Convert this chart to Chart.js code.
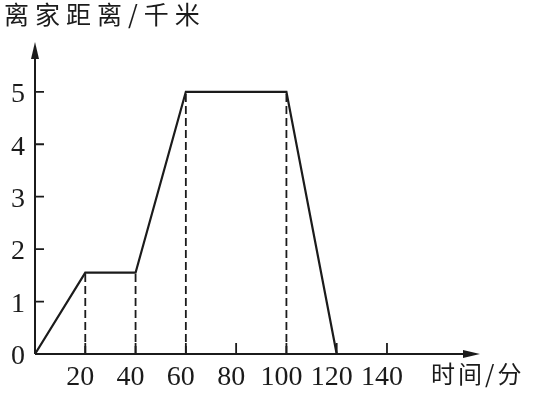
<!DOCTYPE html>
<html>
<head>
<meta charset="utf-8">
<script src="https://cdn.jsdelivr.net/npm/chart.js@4"></script>
<style>
  html, body { margin: 0; padding: 0; background: #fff; }
  #wrap { width: 539px; height: 393px; position: relative; }
</style>
</head>
<body>
<div id="wrap"><canvas id="chart"></canvas></div>
<script>
// data
const timeMin = [0, 20, 40, 60, 100, 120];
const distKm = [0, 1.55, 1.55, 5, 5, 0];
const dashedAt = [20, 40, 60, 100];
const xTicks = [20, 40, 60, 80, 100, 120, 140];
const yTicks = [0, 1, 2, 3, 4, 5];
const yTitle = "离家距离/千米";
const xTitle = "时间/分";

const ink = "#1b1b1b";
const cjkFont = '"Noto Sans CJK SC", sans-serif';
const numFont = '"Liberation Serif", "DejaVu Serif", serif';

const mainLine = timeMin.map((t, i) => ({ x: t, y: distKm[i] }));

// dashed drop lines go from the axis up to the graph
const dropLines = dashedAt.map(t => ({
  type: "line",
  data: [{ x: t, y: 0 }, { x: t, y: distKm[timeMin.indexOf(t)] }],
  borderColor: ink,
  borderWidth: 1.8,
  borderDash: [8, 4],
  pointRadius: 0,
  fill: false
}));

const axesPlugin = {
  id: "axes",
  afterDraw(chart) {
    const { ctx, scales: { x, y }, chartArea: a } = chart;
    const x0 = x.getPixelForValue(0);
    const y0 = y.getPixelForValue(0);
    ctx.save();
    ctx.strokeStyle = ink;
    ctx.fillStyle = ink;
    ctx.lineWidth = 2;

    // axis lines
    ctx.beginPath();
    ctx.moveTo(x0, y0);
    ctx.lineTo(x0, a.top + 6);
    ctx.moveTo(x0, y0);
    ctx.lineTo(a.right - 6, y0);
    ctx.stroke();

    // arrow heads
    ctx.beginPath();
    ctx.moveTo(x0, a.top);
    ctx.lineTo(x0 - 4, a.top + 17);
    ctx.lineTo(x0 + 4, a.top + 17);
    ctx.closePath();
    ctx.fill();
    ctx.beginPath();
    ctx.moveTo(a.right, y0);
    ctx.lineTo(a.right - 17, y0 - 4);
    ctx.lineTo(a.right - 17, y0 + 4);
    ctx.closePath();
    ctx.fill();

    // tick marks point inward
    ctx.lineWidth = 1.8;
    ctx.beginPath();
    yTicks.filter(v => v > 0).forEach(v => {
      const py = y.getPixelForValue(v);
      ctx.moveTo(x0, py);
      ctx.lineTo(x0 + 9, py);
    });
    xTicks.forEach(v => {
      const px = x.getPixelForValue(v);
      ctx.moveTo(px, y0);
      ctx.lineTo(px, y0 - 11);
    });
    ctx.stroke();

    // axis titles
    ctx.textBaseline = "top";
    ctx.textAlign = "left";
    ctx.font = "25px " + cjkFont;
    ctx.letterSpacing = "6px";
    ctx.fillText(yTitle, 4, 2);
    ctx.font = "24px " + cjkFont;
    ctx.letterSpacing = "3px";
    ctx.fillText(xTitle, 431, 362);
    ctx.restore();
  }
};

new Chart(document.getElementById("chart"), {
  type: "scatter",
  data: {
    datasets: [
      {
        data: mainLine,
        showLine: true,
        borderColor: ink,
        borderWidth: 2.2,
        pointRadius: 0,
        tension: 0,
        fill: false
      },
      ...dropLines
    ]
  },
  options: {
    responsive: true,
    maintainAspectRatio: false,
    animation: false,
    events: [],
    layout: { padding: { left: 0, right: 59, top: 42, bottom: 0 } },
    plugins: {
      legend: { display: false },
      tooltip: { enabled: false }
    },
    scales: {
      x: {
        type: "linear",
        min: 0,
        max: 177,
        grid: { display: false, drawTicks: false },
        border: { display: false },
        afterBuildTicks: s => { s.ticks = xTicks.map(v => ({ value: v })); },
        afterFit: s => { s.height = 39; },
        ticks: {
          color: ink,
          padding: 7,
          labelOffset: -5,
          maxRotation: 0,
          autoSkip: false,
          font: { family: numFont, size: 28 }
        }
      },
      y: {
        type: "linear",
        min: 0,
        max: 5.95,
        grid: { display: false, drawTicks: false },
        border: { display: false },
        afterBuildTicks: s => { s.ticks = yTicks.map(v => ({ value: v })); },
        afterFit: s => { s.width = 35; },
        ticks: {
          color: ink,
          padding: 10,
          labelOffset: 3,
          font: { family: numFont, size: 28 }
        }
      }
    }
  },
  plugins: [axesPlugin]
});
</script>
</body>
</html>
